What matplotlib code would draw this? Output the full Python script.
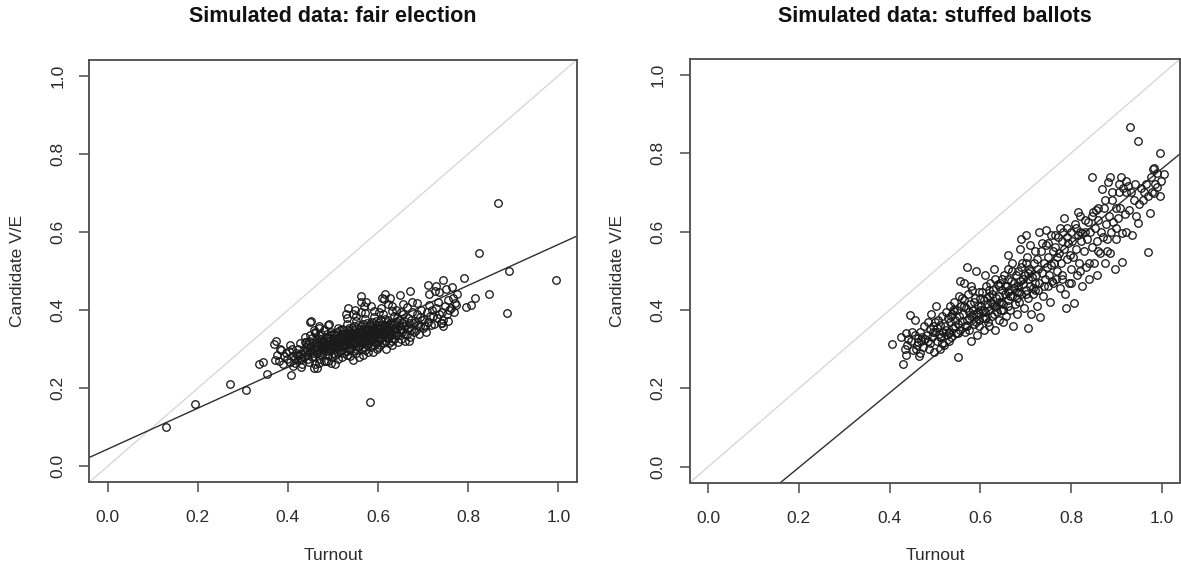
import numpy as np
import matplotlib
matplotlib.use("Agg")
import matplotlib.pyplot as plt

plt.rcParams['font.family'] = ['Liberation Sans', 'DejaVu Sans']

# (turnout, candidate votes / electorate) for each precinct
fair_points = [
    (0.130, 0.101), (0.195, 0.159), (0.272, 0.210), (0.308, 0.196), (0.337, 0.261),
    (0.345, 0.266), (0.353, 0.236), (0.369, 0.313), (0.373, 0.320), (0.371, 0.272),
    (0.407, 0.233), (0.581, 0.166), (0.867, 0.675), (0.824, 0.546), (0.890, 0.500),
    (0.995, 0.477), (0.885, 0.393), (0.847, 0.440), (0.816, 0.430), (0.790, 0.482),
    (0.796, 0.409), (0.805, 0.414), (0.773, 0.414), (0.743, 0.477), (0.711, 0.465),
    (0.728, 0.462), (0.765, 0.458), (0.754, 0.372), (0.741, 0.367), (0.671, 0.448),
    (0.649, 0.439), (0.616, 0.441), (0.609, 0.432), (0.562, 0.435), (0.563, 0.420),
    (0.448, 0.370), (0.492, 0.365), (0.505, 0.262), (0.458, 0.253),
    (0.375, 0.285), (0.380, 0.270), (0.385, 0.298), (0.390, 0.262), (0.395, 0.290),
    (0.383, 0.300), (0.398, 0.275), (0.392, 0.282),
    (0.402, 0.295), (0.405, 0.268), (0.408, 0.283), (0.410, 0.300), (0.412, 0.258),
    (0.415, 0.278), (0.418, 0.290), (0.404, 0.310), (0.416, 0.265), (0.420, 0.285),
    (0.422, 0.300), (0.425, 0.272), (0.427, 0.315), (0.430, 0.288), (0.432, 0.262),
    (0.434, 0.296), (0.436, 0.280), (0.438, 0.330), (0.440, 0.305), (0.424, 0.285),
    (0.428, 0.255), (0.437, 0.318), (0.431, 0.275), (0.439, 0.292),
    (0.442, 0.285), (0.444, 0.310), (0.446, 0.268), (0.448, 0.335), (0.450, 0.295),
    (0.452, 0.372), (0.454, 0.280), (0.456, 0.315), (0.458, 0.300), (0.460, 0.262),
    (0.443, 0.298), (0.447, 0.322), (0.451, 0.308), (0.455, 0.290), (0.459, 0.345),
    (0.445, 0.276), (0.453, 0.328), (0.457, 0.283), (0.449, 0.303), (0.441, 0.318),
    (0.462, 0.305), (0.464, 0.290), (0.466, 0.328), (0.468, 0.275), (0.470, 0.312),
    (0.472, 0.298), (0.474, 0.340), (0.476, 0.285), (0.478, 0.320), (0.480, 0.302),
    (0.463, 0.318), (0.465, 0.252), (0.467, 0.300), (0.469, 0.336), (0.471, 0.288),
    (0.473, 0.325), (0.475, 0.308), (0.477, 0.295), (0.479, 0.270), (0.461, 0.342),
    (0.470, 0.355), (0.476, 0.315),
    (0.482, 0.315), (0.484, 0.295), (0.486, 0.330), (0.488, 0.308), (0.490, 0.285),
    (0.492, 0.322), (0.494, 0.300), (0.496, 0.345), (0.498, 0.312), (0.500, 0.290),
    (0.483, 0.305), (0.485, 0.270), (0.487, 0.340), (0.489, 0.318), (0.491, 0.298),
    (0.493, 0.335), (0.495, 0.310), (0.497, 0.280), (0.499, 0.328), (0.481, 0.350),
    (0.490, 0.362), (0.495, 0.265), (0.488, 0.325), (0.497, 0.305),
    (0.502, 0.318), (0.504, 0.300), (0.506, 0.335), (0.508, 0.312), (0.510, 0.290),
    (0.512, 0.328), (0.514, 0.305), (0.516, 0.348), (0.518, 0.320), (0.520, 0.298),
    (0.503, 0.340), (0.505, 0.285), (0.507, 0.322), (0.509, 0.308), (0.511, 0.355),
    (0.513, 0.315), (0.515, 0.295), (0.517, 0.332), (0.519, 0.310), (0.501, 0.305),
    (0.510, 0.325), (0.515, 0.318), (0.520, 0.338), (0.505, 0.315), (0.512, 0.276),
    (0.522, 0.325), (0.524, 0.305), (0.526, 0.342), (0.528, 0.318), (0.530, 0.295),
    (0.532, 0.335), (0.534, 0.312), (0.536, 0.355), (0.538, 0.328), (0.540, 0.302),
    (0.523, 0.348), (0.525, 0.290), (0.527, 0.330), (0.529, 0.310), (0.531, 0.365),
    (0.533, 0.322), (0.535, 0.300), (0.537, 0.340), (0.539, 0.318), (0.521, 0.312),
    (0.530, 0.332), (0.535, 0.325), (0.540, 0.345), (0.525, 0.322), (0.533, 0.405),
    (0.528, 0.390), (0.538, 0.282),
    (0.542, 0.330), (0.544, 0.310), (0.546, 0.348), (0.548, 0.325), (0.550, 0.300),
    (0.552, 0.342), (0.554, 0.318), (0.556, 0.362), (0.558, 0.335), (0.560, 0.310),
    (0.543, 0.355), (0.545, 0.295), (0.547, 0.338), (0.549, 0.315), (0.551, 0.372),
    (0.553, 0.330), (0.555, 0.305), (0.557, 0.345), (0.559, 0.322), (0.541, 0.320),
    (0.550, 0.338), (0.555, 0.332), (0.560, 0.352), (0.545, 0.328), (0.552, 0.385),
    (0.548, 0.400), (0.557, 0.280), (0.544, 0.272),
    (0.562, 0.335), (0.564, 0.315), (0.566, 0.352), (0.568, 0.330), (0.570, 0.305),
    (0.572, 0.348), (0.574, 0.322), (0.576, 0.368), (0.578, 0.340), (0.580, 0.315),
    (0.563, 0.360), (0.565, 0.300), (0.567, 0.342), (0.569, 0.320), (0.571, 0.378),
    (0.573, 0.335), (0.575, 0.310), (0.577, 0.350), (0.579, 0.328), (0.561, 0.325),
    (0.570, 0.342), (0.575, 0.338), (0.580, 0.358), (0.565, 0.332), (0.572, 0.392),
    (0.568, 0.410), (0.577, 0.292), (0.566, 0.285), (0.574, 0.420),
    (0.582, 0.340), (0.584, 0.320), (0.586, 0.358), (0.588, 0.335), (0.590, 0.310),
    (0.592, 0.352), (0.594, 0.328), (0.596, 0.372), (0.598, 0.345), (0.600, 0.320),
    (0.583, 0.365), (0.585, 0.305), (0.587, 0.348), (0.589, 0.325), (0.591, 0.382),
    (0.593, 0.340), (0.595, 0.315), (0.597, 0.355), (0.599, 0.332), (0.581, 0.330),
    (0.590, 0.348), (0.595, 0.342), (0.600, 0.362), (0.585, 0.338), (0.592, 0.398),
    (0.588, 0.292), (0.597, 0.300),
    (0.602, 0.345), (0.604, 0.325), (0.606, 0.362), (0.608, 0.340), (0.610, 0.315),
    (0.612, 0.358), (0.614, 0.335), (0.616, 0.378), (0.618, 0.350), (0.620, 0.328),
    (0.603, 0.370), (0.605, 0.310), (0.607, 0.352), (0.609, 0.330), (0.611, 0.390),
    (0.613, 0.345), (0.615, 0.320), (0.617, 0.362), (0.619, 0.338), (0.601, 0.355),
    (0.610, 0.350), (0.615, 0.348), (0.620, 0.370), (0.606, 0.405), (0.612, 0.428),
    (0.618, 0.300),
    (0.622, 0.350), (0.624, 0.330), (0.626, 0.368), (0.628, 0.345), (0.630, 0.320),
    (0.632, 0.362), (0.634, 0.340), (0.636, 0.385), (0.638, 0.355), (0.640, 0.335),
    (0.623, 0.375), (0.625, 0.315), (0.627, 0.357), (0.629, 0.335), (0.631, 0.398),
    (0.633, 0.350), (0.635, 0.325), (0.637, 0.368), (0.639, 0.345), (0.630, 0.410),
    (0.626, 0.430),
    (0.642, 0.355), (0.644, 0.335), (0.646, 0.375), (0.648, 0.350), (0.650, 0.325),
    (0.652, 0.368), (0.654, 0.345), (0.656, 0.390), (0.658, 0.360), (0.660, 0.340),
    (0.645, 0.318), (0.650, 0.395), (0.655, 0.415), (0.643, 0.380), (0.659, 0.322),
    (0.662, 0.362), (0.664, 0.340), (0.666, 0.380), (0.668, 0.355), (0.670, 0.330),
    (0.672, 0.375), (0.674, 0.350), (0.676, 0.395), (0.678, 0.368), (0.680, 0.345),
    (0.665, 0.408), (0.675, 0.420), (0.668, 0.322),
    (0.682, 0.370), (0.684, 0.350), (0.686, 0.390), (0.688, 0.362), (0.690, 0.340),
    (0.692, 0.382), (0.694, 0.358), (0.696, 0.400), (0.698, 0.375), (0.700, 0.355),
    (0.686, 0.418),
    (0.702, 0.378), (0.705, 0.358), (0.708, 0.395), (0.710, 0.370), (0.712, 0.412),
    (0.715, 0.385), (0.718, 0.362), (0.720, 0.400), (0.714, 0.440), (0.706, 0.345),
    (0.722, 0.385), (0.725, 0.365), (0.728, 0.405), (0.730, 0.380), (0.733, 0.420),
    (0.736, 0.390), (0.739, 0.368), (0.735, 0.445), (0.726, 0.450),
    (0.742, 0.395), (0.745, 0.375), (0.748, 0.410), (0.752, 0.390), (0.756, 0.425),
    (0.758, 0.400), (0.750, 0.455), (0.745, 0.360),
    (0.762, 0.405), (0.766, 0.430), (0.770, 0.418), (0.775, 0.440), (0.768, 0.395),
    (0.465, 0.310), (0.472, 0.322), (0.478, 0.308), (0.485, 0.328), (0.491, 0.312),
    (0.498, 0.338), (0.503, 0.325), (0.509, 0.345), (0.514, 0.330), (0.519, 0.352),
    (0.524, 0.338), (0.529, 0.325), (0.534, 0.348), (0.539, 0.335), (0.543, 0.342),
    (0.547, 0.358), (0.551, 0.325), (0.556, 0.348), (0.561, 0.340), (0.566, 0.365),
    (0.571, 0.330), (0.576, 0.355), (0.581, 0.345), (0.586, 0.370), (0.591, 0.335),
    (0.596, 0.360), (0.601, 0.340), (0.606, 0.375), (0.611, 0.340), (0.616, 0.355),
    (0.621, 0.345), (0.626, 0.352), (0.631, 0.365), (0.636, 0.350), (0.641, 0.370),
    (0.646, 0.360), (0.651, 0.350), (0.657, 0.372), (0.663, 0.352), (0.669, 0.368),
    (0.458, 0.350), (0.468, 0.360), (0.532, 0.380), (0.545, 0.390), (0.563, 0.395),
    (0.585, 0.410), (0.602, 0.395), (0.623, 0.415), (0.640, 0.400), (0.530, 0.285),
    (0.550, 0.290), (0.570, 0.298), (0.600, 0.305), (0.630, 0.310), (0.490, 0.270),
    (0.470, 0.265), (0.520, 0.280),
]

stuffed_points = [
    (0.406, 0.312), (0.429, 0.261), (0.433, 0.301), (0.435, 0.286), (0.435, 0.342),
    (0.440, 0.325), (0.438, 0.310), (0.425, 0.330),
    (0.445, 0.386), (0.457, 0.375), (0.448, 0.320), (0.452, 0.298), (0.455, 0.335),
    (0.460, 0.310), (0.463, 0.328), (0.466, 0.345), (0.468, 0.290), (0.470, 0.320),
    (0.472, 0.330), (0.474, 0.305), (0.476, 0.360), (0.478, 0.325), (0.465, 0.282),
    (0.450, 0.345), (0.462, 0.318), (0.458, 0.300),
    (0.482, 0.335), (0.484, 0.370), (0.486, 0.300), (0.488, 0.352), (0.490, 0.315),
    (0.492, 0.390), (0.494, 0.330), (0.496, 0.360), (0.498, 0.292), (0.500, 0.345),
    (0.502, 0.410), (0.504, 0.322), (0.506, 0.375), (0.508, 0.338), (0.510, 0.300),
    (0.512, 0.362), (0.514, 0.330), (0.516, 0.385), (0.518, 0.345), (0.520, 0.310),
    (0.485, 0.320), (0.495, 0.343), (0.505, 0.355), (0.515, 0.315), (0.500, 0.370),
    (0.522, 0.360), (0.524, 0.395), (0.526, 0.335), (0.528, 0.380), (0.530, 0.345),
    (0.532, 0.410), (0.534, 0.370), (0.536, 0.330), (0.538, 0.390), (0.540, 0.355),
    (0.542, 0.420), (0.544, 0.375), (0.546, 0.340), (0.548, 0.400), (0.550, 0.365),
    (0.550, 0.281), (0.552, 0.435), (0.554, 0.385), (0.556, 0.350), (0.558, 0.410),
    (0.560, 0.372), (0.525, 0.350), (0.535, 0.385), (0.545, 0.360), (0.555, 0.475),
    (0.565, 0.470), (0.530, 0.322), (0.541, 0.398),
    (0.562, 0.390), (0.564, 0.425), (0.566, 0.360), (0.568, 0.405), (0.570, 0.375),
    (0.572, 0.440), (0.574, 0.395), (0.576, 0.350), (0.578, 0.415), (0.580, 0.385),
    (0.582, 0.450), (0.584, 0.400), (0.586, 0.365), (0.588, 0.430), (0.590, 0.390),
    (0.592, 0.335), (0.594, 0.410), (0.596, 0.375), (0.598, 0.445), (0.600, 0.400),
    (0.565, 0.410), (0.575, 0.380), (0.585, 0.420), (0.595, 0.395), (0.571, 0.510),
    (0.590, 0.500), (0.580, 0.320), (0.598, 0.360), (0.567, 0.345), (0.583, 0.390),
    (0.602, 0.410), (0.604, 0.445), (0.606, 0.380), (0.608, 0.425), (0.610, 0.395),
    (0.612, 0.460), (0.614, 0.415), (0.616, 0.370), (0.618, 0.435), (0.620, 0.400),
    (0.622, 0.470), (0.624, 0.420), (0.626, 0.385), (0.628, 0.450), (0.630, 0.410),
    (0.632, 0.350), (0.634, 0.430), (0.636, 0.395), (0.638, 0.465), (0.640, 0.420),
    (0.605, 0.400), (0.615, 0.430), (0.625, 0.440), (0.635, 0.410), (0.610, 0.490),
    (0.630, 0.505), (0.620, 0.360), (0.640, 0.375), (0.607, 0.350), (0.627, 0.415),
    (0.633, 0.480), (0.613, 0.380),
    (0.642, 0.435), (0.644, 0.470), (0.646, 0.400), (0.648, 0.450), (0.650, 0.415),
    (0.652, 0.490), (0.654, 0.440), (0.656, 0.385), (0.658, 0.460), (0.660, 0.425),
    (0.662, 0.505), (0.664, 0.450), (0.666, 0.400), (0.668, 0.475), (0.670, 0.435),
    (0.672, 0.360), (0.674, 0.455), (0.676, 0.415), (0.678, 0.490), (0.680, 0.445),
    (0.645, 0.420), (0.655, 0.460), (0.665, 0.435), (0.675, 0.470), (0.660, 0.540),
    (0.650, 0.370), (0.670, 0.520), (0.680, 0.390), (0.648, 0.480), (0.662, 0.445),
    (0.682, 0.460), (0.684, 0.500), (0.686, 0.420), (0.688, 0.475), (0.690, 0.440),
    (0.692, 0.520), (0.694, 0.465), (0.696, 0.405), (0.698, 0.490), (0.700, 0.450),
    (0.702, 0.535), (0.704, 0.480), (0.704, 0.355), (0.706, 0.430), (0.708, 0.505),
    (0.710, 0.460), (0.712, 0.390), (0.714, 0.485), (0.716, 0.440), (0.718, 0.520),
    (0.720, 0.470), (0.685, 0.445), (0.695, 0.480), (0.705, 0.495), (0.715, 0.455),
    (0.690, 0.580), (0.700, 0.590), (0.710, 0.565), (0.688, 0.555),
    (0.722, 0.490), (0.724, 0.530), (0.726, 0.450), (0.728, 0.505), (0.730, 0.470),
    (0.732, 0.383), (0.734, 0.550), (0.736, 0.495), (0.738, 0.435), (0.740, 0.520),
    (0.742, 0.480), (0.744, 0.565), (0.746, 0.510), (0.748, 0.460), (0.750, 0.535),
    (0.752, 0.490), (0.754, 0.420), (0.756, 0.515), (0.758, 0.475), (0.760, 0.550),
    (0.730, 0.600), (0.745, 0.605), (0.725, 0.410), (0.755, 0.590),
    (0.762, 0.520), (0.764, 0.560), (0.766, 0.480), (0.768, 0.535), (0.770, 0.500),
    (0.772, 0.585), (0.774, 0.545), (0.776, 0.455), (0.778, 0.520), (0.780, 0.490),
    (0.782, 0.600), (0.784, 0.555), (0.786, 0.440), (0.788, 0.406), (0.790, 0.530),
    (0.792, 0.610), (0.794, 0.570), (0.796, 0.470), (0.798, 0.540), (0.800, 0.505),
    (0.785, 0.635), (0.775, 0.610),
    (0.802, 0.575), (0.804, 0.535), (0.806, 0.418), (0.808, 0.620), (0.810, 0.555),
    (0.812, 0.490), (0.815, 0.590), (0.818, 0.520), (0.820, 0.640), (0.822, 0.575),
    (0.825, 0.460), (0.828, 0.550), (0.830, 0.600), (0.832, 0.510), (0.835, 0.580),
    (0.838, 0.625), (0.840, 0.480), (0.815, 0.650), (0.825, 0.595),
    (0.842, 0.600), (0.845, 0.560), (0.847, 0.738), (0.848, 0.650), (0.850, 0.520),
    (0.853, 0.610), (0.856, 0.575), (0.858, 0.490), (0.860, 0.630), (0.863, 0.545),
    (0.866, 0.600), (0.869, 0.708), (0.872, 0.660), (0.875, 0.520), (0.878, 0.620),
    (0.880, 0.550), (0.855, 0.655), (0.870, 0.585),
    (0.881, 0.727), (0.886, 0.738), (0.883, 0.640), (0.885, 0.545), (0.888, 0.600),
    (0.890, 0.680), (0.893, 0.625), (0.896, 0.504), (0.898, 0.660), (0.900, 0.580),
    (0.903, 0.635), (0.906, 0.700), (0.908, 0.660), (0.910, 0.738), (0.912, 0.595),
    (0.913, 0.523), (0.915, 0.710), (0.918, 0.645), (0.920, 0.600),
    (0.922, 0.700), (0.925, 0.715), (0.928, 0.655), (0.930, 0.866), (0.932, 0.700),
    (0.935, 0.590), (0.938, 0.680), (0.940, 0.720), (0.942, 0.640), (0.947, 0.831),
    (0.948, 0.621), (0.950, 0.670), (0.955, 0.710), (0.958, 0.680), (0.960, 0.700),
    (0.965, 0.720), (0.969, 0.548), (0.970, 0.690), (0.973, 0.646), (0.975, 0.740),
    (0.978, 0.700), (0.980, 0.760), (0.983, 0.762), (0.983, 0.698), (0.985, 0.720),
    (0.989, 0.713), (0.990, 0.750), (0.995, 0.801), (0.998, 0.730), (1.004, 0.746),
    (0.995, 0.690),
    (0.540, 0.400), (0.560, 0.430), (0.580, 0.460), (0.600, 0.430), (0.620, 0.450),
    (0.640, 0.460), (0.660, 0.480), (0.670, 0.500), (0.690, 0.510), (0.700, 0.520),
    (0.710, 0.500), (0.720, 0.550), (0.735, 0.570), (0.750, 0.570), (0.765, 0.590),
    (0.780, 0.575), (0.790, 0.585), (0.800, 0.600), (0.810, 0.610), (0.820, 0.600),
    (0.830, 0.630), (0.845, 0.640), (0.860, 0.660), (0.875, 0.680), (0.890, 0.700),
    (0.905, 0.720), (0.920, 0.730), (0.660, 0.410), (0.680, 0.430), (0.700, 0.440),
    (0.720, 0.450), (0.740, 0.460), (0.760, 0.470), (0.780, 0.480), (0.800, 0.470),
    (0.820, 0.500), (0.840, 0.520), (0.860, 0.550), (0.880, 0.580), (0.900, 0.610),
    (0.590, 0.370), (0.610, 0.380), (0.630, 0.390), (0.650, 0.400), (0.570, 0.360),
    (0.550, 0.340), (0.530, 0.340), (0.510, 0.330),
]

# fitted least-squares lines (intercept, slope)
fair_fit = (0.044, 0.524)
stuffed_fit = (-0.192, 0.952)

titles = ["Simulated data: fair election", "Simulated data: stuffed ballots"]
x_label = "Turnout"
y_label = "Candidate V/E"
ticks = [0.0, 0.2, 0.4, 0.6, 0.8, 1.0]
tick_labels = ["0.0", "0.2", "0.4", "0.6", "0.8", "1.0"]

W, H = 1181, 572
fig = plt.figure(figsize=(W / 100, H / 100), dpi=100)
fig.patch.set_facecolor("white")

boxes = [(89.5, 60, 576.5, 482), (690, 59, 1180, 482.5)]
panels = [(fair_points, fair_fit), (stuffed_points, stuffed_fit)]
text_col = "#2b2b2b"
frame_col = "#4a4a4a"

for (x0, y0, x1, y1), (pts, fit), title in zip(boxes, panels, titles):
    ax = fig.add_axes([x0 / W, 1 - y1 / H, (x1 - x0) / W, (y1 - y0) / H])
    ax.set_xlim(-0.04, 1.04)
    ax.set_ylim(-0.04, 1.04)
    pts = np.array(pts)
    ax.axline((0, 0), slope=1, color="#d4d4d4", lw=0.9, zorder=1)
    ax.axline((0, fit[0]), slope=fit[1], color="#2e2e2e", lw=1.0, zorder=2)
    ax.plot(pts[:, 0], pts[:, 1], linestyle="none", marker="o", ms=5.4,
            mfc="none", mec="#1a1a1a", mew=0.95, zorder=3)
    ax.set_xticks(ticks)
    ax.set_xticklabels(tick_labels)
    ax.set_yticks(ticks)
    ax.set_yticklabels(tick_labels, rotation=90, va="center")
    ax.tick_params(axis="x", pad=13)
    ax.tick_params(axis="y", pad=10)
    ax.tick_params(direction="out", length=7.5, width=1.1, color=frame_col,
                   labelsize=12.5, labelcolor=text_col)
    for s in ax.spines.values():
        s.set_color(frame_col)
        s.set_linewidth(1.3)
    cx = (x0 + x1) / 2 / W
    fig.text(cx, 1 - 17 / H, title, ha="center", va="center",
             fontsize=15.5, fontweight="bold", color="#111111")
    fig.text(cx, 1 - 556 / H, x_label, ha="center", va="center",
             fontsize=12.5, color=text_col)
    fig.text((x0 - 72) / W, 1 - (y0 + y1) / 2 / H, y_label, ha="center",
             va="center", rotation=90, fontsize=12.5, color=text_col)

fig.savefig("out.png", dpi=100, facecolor="white")
